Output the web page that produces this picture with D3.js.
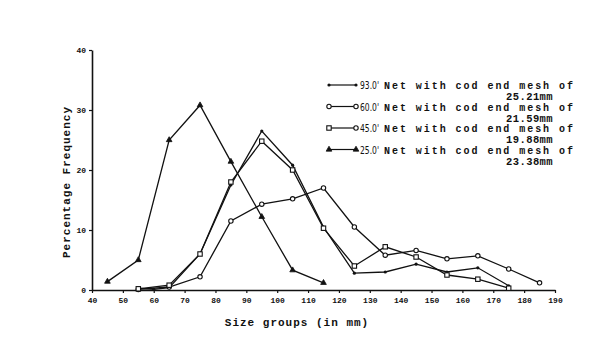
<!DOCTYPE html>
<html>
<head>
<meta charset="utf-8">
<script src="https://cdn.jsdelivr.net/npm/d3@7"></script>
<style>
  body { margin: 0; background: #fff; }
  svg text { fill: #111; }
</style>
</head>
<body>
<svg id="chart" width="600" height="352"></svg>
<script>
// size groups (mid points, mm) and percentage frequency per net
let x93 = [55, 60, 65, 75, 85, 95, 105, 115, 125, 135, 145, 155, 165, 175];
let y93 = [0.3, 0.1, 0.4, 6.0, 17.5, 26.5, 20.8, 10.5, 2.8, 3.0, 4.3, 3.0, 3.7, 0.7];
let x60 = [55, 65, 75, 85, 95, 105, 115, 125, 135, 145, 155, 165, 175, 185];
let y60 = [0.1, 0.5, 2.2, 11.5, 14.3, 15.2, 17.0, 10.5, 5.8, 6.6, 5.2, 5.7, 3.5, 1.2];
let x45 = [55, 65, 75, 85, 95, 105, 115, 125, 135, 145, 155, 165, 175];
let y45 = [0.2, 0.8, 6.0, 18.0, 24.8, 20.0, 10.3, 4.0, 7.2, 5.5, 2.5, 1.8, 0.3];
let x25 = [45, 55, 65, 75, 85, 95, 105, 115];
let y25 = [1.4, 5.0, 25.0, 30.8, 21.4, 12.2, 3.3, 1.2];

let xTicks = [40, 50, 60, 70, 80, 90, 100, 110, 120, 130, 140, 150, 160, 170, 180, 190];
let yTicks = [0, 10, 20, 30, 40];

let legendNets = ["93.0'", "60.0'", "45.0'", "25.0'"];
let legendMesh = ["25.21mm", "21.59mm", "19.88mm", "23.38mm"];

let svg = d3.select("#chart");
let xScale = d3.scaleLinear().domain([40, 190]).range([92, 555]);
let yScale = d3.scaleLinear().domain([0, 40]).range([290, 50]);

let mono = "'Liberation Mono', 'DejaVu Sans Mono', monospace";

// axes
let xAxis = svg.append("g")
    .attr("transform", "translate(0," + 290 + ")")
    .call(d3.axisBottom(xScale).tickValues(xTicks).tickSize(3).tickSizeOuter(0));
xAxis.selectAll("text")
    .attr("font-family", mono)
    .attr("font-weight", "bold")
    .attr("font-size", "8px")
    .attr("dy", "0.9em");

let yAxis = svg.append("g")
    .attr("transform", "translate(" + 92 + ",0)")
    .call(d3.axisLeft(yScale).tickValues(yTicks).tickSize(3).tickSizeOuter(0));
yAxis.selectAll("text")
    .attr("font-family", mono)
    .attr("font-weight", "bold")
    .attr("font-size", "8px")
    .attr("x", -6);

svg.selectAll(".domain").attr("stroke", "#111").attr("stroke-width", 1.6);
svg.selectAll(".tick line").attr("stroke", "#111").attr("stroke-width", 1.2);

// axis titles
svg.append("text")
    .attr("x", 297)
    .attr("y", 326)
    .attr("text-anchor", "middle")
    .attr("font-family", mono)
    .attr("font-weight", "bold")
    .attr("font-size", "11px")
    .attr("letter-spacing", "1px")
    .text("Size groups (in mm)");

svg.append("text")
    .attr("transform", "translate(70,182) rotate(-90)")
    .attr("text-anchor", "middle")
    .attr("font-family", mono)
    .attr("font-weight", "bold")
    .attr("font-size", "11px")
    .attr("letter-spacing", "1px")
    .text("Percentage Frequency");

let line = d3.line()
    .x((d) => xScale(d[0]))
    .y((d) => yScale(d[1]));

let series = [
    { xs: x93, ys: y93, mark: "dot" },
    { xs: x60, ys: y60, mark: "circle" },
    { xs: x45, ys: y45, mark: "square" },
    { xs: x25, ys: y25, mark: "triangle" }
];

function drawMark(g, kind, cx, cy) {
    if (kind === "dot") {
        g.append("circle").attr("cx", cx).attr("cy", cy).attr("r", 1.6).attr("fill", "#111");
    } else if (kind === "circle") {
        g.append("circle").attr("cx", cx).attr("cy", cy).attr("r", 2.2)
            .attr("fill", "#fff").attr("stroke", "#111").attr("stroke-width", 1.1);
    } else if (kind === "square") {
        g.append("rect").attr("x", cx - 2.2).attr("y", cy - 2.2).attr("width", 4.4).attr("height", 4.4)
            .attr("fill", "#fff").attr("stroke", "#111").attr("stroke-width", 1.1);
    } else {
        g.append("path")
            .attr("d", d3.symbol().type(d3.symbolTriangle).size(14)())
            .attr("transform", "translate(" + cx + "," + cy + ")")
            .attr("fill", "#111").attr("stroke", "#111").attr("stroke-width", 0.8);
    }
}

series.forEach(function (s) {
    let pts = s.xs.map((v, i) => [v, s.ys[i]]);
    svg.append("path")
        .attr("d", line(pts))
        .attr("fill", "none")
        .attr("stroke", "#111")
        .attr("stroke-width", 1.3);
    let g = svg.append("g");
    pts.forEach(function (p) {
        drawMark(g, s.mark, xScale(p[0]), yScale(p[1]));
    });
});

// legend
let legend = svg.append("g");
series.forEach(function (s, i) {
    let ly = 85 + i * 21.5;
    legend.append("line")
        .attr("x1", 329).attr("x2", 356)
        .attr("y1", ly).attr("y2", ly)
        .attr("stroke", "#111").attr("stroke-width", 1.2);
    drawMark(legend, s.mark, 329, ly);
    drawMark(legend, s.mark === "square" ? "circle" : s.mark, 356, ly);
    legend.append("text")
        .attr("x", 360)
        .attr("y", ly + 4)
        .attr("font-family", "'DejaVu Sans', sans-serif")
        .attr("font-size", "10px")
        .attr("textLength", 19)
        .attr("lengthAdjust", "spacingAndGlyphs")
        .text(legendNets[i]);
    legend.append("text")
        .attr("x", 384)
        .attr("y", ly + 4)
        .attr("font-family", mono)
        .attr("font-weight", "bold")
        .attr("font-size", "10px")
        .attr("textLength", 189)
        .attr("lengthAdjust", "spacing")
        .text("Net with cod end mesh of");
    legend.append("text")
        .attr("x", 553)
        .attr("y", ly + 15)
        .attr("text-anchor", "end")
        .attr("font-family", mono)
        .attr("font-weight", "bold")
        .attr("font-size", "10.5px")
        .attr("letter-spacing", "0.4px")
        .text(legendMesh[i]);
});
</script>
</body>
</html>
